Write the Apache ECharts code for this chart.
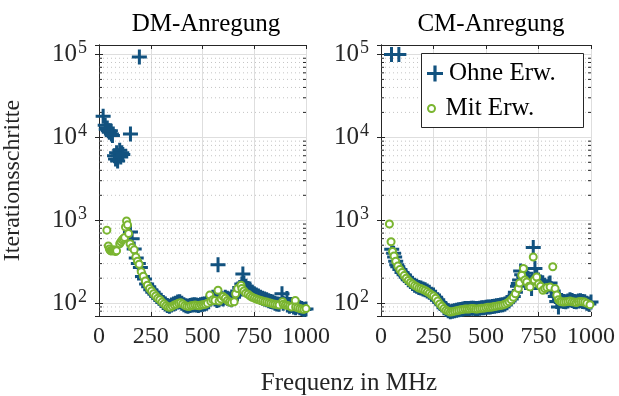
<!DOCTYPE html>
<html lang="de">
  <head>
    <meta charset="UTF-8" />
    <title>Iterationsschritte</title>
    <script src="https://cdn.jsdelivr.net/npm/echarts@6/dist/echarts.min.js"></script>
    <style>
      html, body { margin: 0; padding: 0; background: #fff; }
    </style>
  </head>
  <body>
    <div id="chart" style="width: 619px; height: 396px"></div>
    <script>
      // [Frequenz in MHz, Iterationsschritte]
      const dmOhne = [
        [20, 18000], [30, 14000], [35, 12500], [40, 13000], [45, 12000], [50, 11500], [55, 12000],
        [60, 11000], [65, 10500], [75, 6000], [80, 5500], [85, 6500], [90, 5200], [95, 6000],
        [100, 7000], [105, 5800], [110, 6500], [115, 6200], [152, 11000], [195, 93000],
        [152, 720], [160, 600], [170, 450], [180, 350], [190, 300], [200, 270], [210, 210],
        [220, 195], [230, 170], [240, 158], [250, 145], [260, 135], [270, 128], [280, 120],
        [290, 115], [300, 108], [310, 102], [320, 98], [330, 94], [340, 92], [350, 95], [360, 98],
        [370, 100], [380, 103], [390, 104], [400, 100], [410, 96], [420, 93], [430, 92], [440, 94],
        [450, 95], [460, 96], [470, 95], [480, 94], [490, 96], [500, 97], [510, 98], [520, 100],
        [530, 104], [540, 112], [550, 118], [560, 112], [570, 108], [575, 290], [580, 110],
        [590, 115], [600, 112], [610, 118], [620, 115], [630, 112], [640, 110], [650, 118],
        [660, 125], [670, 140], [680, 155], [690, 170], [695, 225], [700, 175], [710, 160],
        [720, 150], [730, 142], [740, 135], [750, 130], [760, 125], [770, 122], [780, 118],
        [790, 115], [800, 112], [810, 110], [820, 107], [830, 105], [840, 103], [850, 100],
        [860, 98], [870, 97], [884, 130], [890, 100], [908, 114], [910, 95], [920, 92], [930, 94],
        [940, 90], [950, 88], [960, 92], [970, 88], [980, 86], [990, 84], [1000, 85]
      ];
      const dmMit = [
        [38, 760], [45, 490], [50, 450], [55, 430], [60, 425], [65, 430], [70, 440], [75, 430],
        [80, 420], [85, 430], [100, 520], [106, 550], [112, 580], [118, 600], [124, 620],
        [128, 830], [133, 980], [138, 880], [143, 690], [150, 520], [160, 470], [170, 440],
        [178, 360], [186, 320], [194, 295], [204, 240], [214, 211], [224, 185], [234, 165],
        [244, 150], [254, 140], [264, 130], [274, 122], [284, 115], [294, 110], [304, 103],
        [314, 98], [324, 93], [334, 90], [344, 89], [354, 92], [364, 95], [374, 97], [384, 100],
        [394, 101], [404, 98], [414, 94], [424, 92], [434, 91], [444, 93], [454, 94], [464, 95],
        [474, 94], [484, 93], [494, 95], [504, 96], [514, 97], [524, 100], [535, 125], [540, 105],
        [550, 110], [560, 108], [575, 143], [580, 106], [590, 112], [600, 120], [610, 115],
        [620, 108], [630, 104], [640, 102], [653, 104], [660, 130], [670, 150], [686, 165],
        [690, 150], [700, 140], [709, 132], [720, 128], [730, 122], [740, 118], [750, 115],
        [760, 112], [770, 110], [780, 108], [790, 106], [800, 104], [810, 103], [820, 101],
        [830, 100], [840, 98], [850, 97], [860, 96], [870, 95], [887, 104], [890, 97], [900, 95],
        [910, 94], [920, 92], [930, 90], [948, 108], [950, 90], [960, 88], [970, 86], [980, 85],
        [990, 84], [1000, 86]
      ];
      const cmOhne = [
        [50, 100000], [85, 100000], [51, 447], [60, 400], [65, 360], [70, 320], [75, 290],
        [80, 275], [90, 255], [100, 235], [110, 220], [120, 205], [130, 192], [140, 182],
        [150, 173], [160, 165], [170, 160], [180, 155], [190, 152], [200, 148], [210, 145],
        [220, 140], [230, 135], [240, 128], [250, 125], [260, 118], [270, 110], [280, 102],
        [290, 96], [300, 88], [310, 84], [320, 81], [330, 79], [340, 80], [350, 81], [360, 82],
        [370, 83], [380, 84], [390, 85], [400, 86], [410, 86], [420, 86], [430, 87], [440, 87],
        [450, 86], [460, 86], [470, 87], [480, 88], [490, 88], [500, 89], [510, 90], [520, 90],
        [530, 91], [540, 92], [550, 93], [560, 94], [570, 95], [580, 96], [590, 98], [600, 101],
        [610, 106], [620, 112], [630, 120], [640, 135], [650, 160], [654, 173], [660, 190],
        [665, 245], [670, 220], [680, 210], [690, 230], [700, 200], [710, 175], [717, 150],
        [720, 185], [725, 470], [733, 262], [741, 207], [750, 190], [760, 180], [770, 175],
        [780, 165], [790, 158], [800, 170], [805, 175], [810, 150], [820, 140], [830, 120],
        [837, 105], [845, 90], [850, 110], [860, 108], [870, 105], [880, 104], [890, 106],
        [900, 110], [910, 108], [920, 105], [930, 104], [940, 106], [950, 107], [960, 105],
        [970, 104], [980, 100], [990, 98], [1000, 103]
      ];
      const cmMit = [
        [40, 900], [48, 550], [55, 420], [62, 370], [70, 320], [80, 280], [90, 255], [100, 235],
        [110, 215], [120, 200], [130, 188], [140, 178], [150, 170], [160, 163], [170, 158],
        [180, 152], [190, 150], [200, 146], [210, 142], [220, 137], [230, 132], [240, 126],
        [250, 122], [260, 115], [270, 106], [280, 98], [290, 92], [300, 86], [310, 82], [320, 80],
        [330, 78], [340, 79], [350, 80], [360, 81], [370, 82], [380, 83], [390, 84], [400, 85],
        [410, 85], [420, 85], [430, 86], [440, 86], [450, 85], [460, 85], [470, 86], [480, 87],
        [490, 87], [500, 88], [510, 89], [520, 89], [530, 90], [540, 91], [550, 92], [560, 93],
        [570, 94], [580, 95], [590, 97], [600, 100], [610, 104], [620, 110], [630, 118],
        [640, 130], [654, 150], [660, 175], [670, 217], [678, 262], [685, 190], [694, 180],
        [705, 160], [710, 157], [725, 360], [730, 190], [741, 207], [750, 170], [760, 160],
        [771, 143], [780, 150], [790, 155], [805, 157], [818, 275], [829, 150], [837, 125],
        [845, 110], [853, 105], [860, 104], [870, 103], [880, 104], [890, 105], [900, 106],
        [910, 104], [920, 103], [930, 102], [940, 104], [950, 105], [960, 104], [970, 103],
        [980, 100], [995, 96]
      ];

      // axis settings
      const xTicks = [0, 250, 500, 750, 1000];
      const yMin = 70;
      const yMax = 130000;
      const minorVals = [80, 90, 200, 300, 400, 500, 600, 700, 800, 900,
        2000, 3000, 4000, 5000, 6000, 7000, 8000, 9000,
        20000, 30000, 40000, 50000, 60000, 70000, 80000, 90000];

      const blue = '#12527f';
      const green = '#7ab530';
      const font = 'Liberation Serif';
      const plusPath = 'path://M4,0H6V4H10V6H6V10H4V6H0V4H4Z';

      let myCharts = echarts.init(document.getElementById('chart'));

      const grids = [
        { left: 96, top: 45, width: 210, height: 271 },
        { left: 381, top: 45, width: 210, height: 271 }
      ];

      function isPow10(v) {
        let e = Math.round(Math.log10(v));
        return Math.abs(v - Math.pow(10, e)) < v * 1e-6;
      }

      let xAxes = [];
      let yAxes = [];
      for (let i = 0; i < 2; i++) {
        // bottom / top
        for (const pos of ['bottom', 'top']) {
          xAxes.push({
            type: 'value', gridIndex: i, position: pos,
            min: xTicks[0], max: xTicks[xTicks.length - 1], interval: 250,
            axisLine: { show: true, onZero: false, lineStyle: { color: '#262626', width: 1 } },
            axisTick: { show: true, inside: true, length: 4, lineStyle: { color: '#262626' } },
            axisLabel: {
              show: pos === 'bottom', margin: 9, fontFamily: font, fontSize: 24, color: '#262626',
              showMinLabel: true, showMaxLabel: true,
              formatter: (v) => String(v)
            },
            splitLine: { show: pos === 'bottom', lineStyle: { color: '#dedede', width: 1 } }
          });
        }
        for (const pos of ['left', 'right']) {
          yAxes.push({
            type: 'log', gridIndex: i, position: pos, logBase: 10,
            min: yMin, max: yMax,
            name: (i === 0 && pos === 'left') ? 'Iterationsschritte' : '',
            nameLocation: 'middle', nameGap: 74,
            nameTextStyle: { fontFamily: font, fontSize: 24, color: '#262626' },
            axisLine: { show: true, lineStyle: { color: '#262626', width: 1 } },
            axisTick: {
              show: true, inside: true, length: 4, lineStyle: { color: '#262626' },
              interval: (idx, v) => isPow10(v)
            },
            axisLabel: {
              show: pos === 'left', margin: 12, color: '#262626',
              showMinLabel: true, showMaxLabel: true,
              formatter: function (v) {
                if (!isPow10(v)) return '';
                return '{b|10}{s|' + Math.round(Math.log10(v)) + '}';
              },
              rich: {
                b: { fontFamily: font, fontSize: 25, color: '#262626' },
                s: { fontFamily: font, fontSize: 18, color: '#262626', padding: [0, 0, 12, 1] }
              }
            },
            splitLine: { show: pos === 'left', lineStyle: { color: '#dedede', width: 1 } }
          });
        }
      }

      // dotted minor grid and minor ticks at 2..9 x 10^k
      function minorSeries(i) {
        return {
          type: 'custom', xAxisIndex: i * 2, yAxisIndex: i * 2, silent: true, z: 1,
          data: minorVals.map((v) => [0, v]),
          renderItem: function (params, api) {
            let v = api.value(1);
            let p0 = api.coord([xTicks[0], v]);
            let p1 = api.coord([xTicks[xTicks.length - 1], v]);
            return {
              type: 'group',
              children: [
                {
                  type: 'line',
                  shape: { x1: p0[0], y1: p0[1], x2: p1[0], y2: p1[1] },
                  style: { stroke: '#c4c4c4', lineWidth: 1, lineDash: [1, 3] }
                },
                {
                  type: 'line',
                  shape: { x1: p0[0], y1: p0[1], x2: p0[0] + 3, y2: p0[1] },
                  style: { stroke: '#262626', lineWidth: 1 }
                },
                {
                  type: 'line',
                  shape: { x1: p1[0] - 3, y1: p1[1], x2: p1[0], y2: p1[1] },
                  style: { stroke: '#262626', lineWidth: 1 }
                }
              ]
            };
          }
        };
      }

      function ohne(i, data) {
        return {
          name: 'Ohne Erw.', type: 'scatter', xAxisIndex: i * 2, yAxisIndex: i * 2,
          symbol: plusPath, symbolSize: 15, itemStyle: { color: blue, opacity: 1 },
          data: data, z: 2, clip: false
        };
      }
      function mit(i, data) {
        return {
          name: 'Mit Erw.', type: 'scatter', xAxisIndex: i * 2, yAxisIndex: i * 2,
          symbol: 'emptyCircle', symbolSize: 7,
          itemStyle: { color: green, borderColor: green, borderWidth: 2, opacity: 1 },
          data: data, z: 3, clip: false
        };
      }

      const titleStyle = { fontFamily: font, fontSize: 25, fontWeight: 'normal', color: '#000' };

      let option = {
        animation: false,
        grid: grids,
        xAxis: xAxes,
        yAxis: yAxes,
        title: [
          { text: 'DM-Anregung', left: 201, top: 7, textAlign: 'center', textStyle: titleStyle },
          { text: 'CM-Anregung', left: 486, top: 7, textAlign: 'center', textStyle: titleStyle },
          { text: 'Frequenz in MHz', left: 344, top: 366, textAlign: 'center',
            textStyle: { fontFamily: font, fontSize: 25, fontWeight: 'normal', color: '#262626' } }
        ],
        graphic: [
          {
            type: 'rect', left: 421, top: 53, z: 5,
            shape: { width: 162, height: 74 },
            style: { fill: '#fff', stroke: '#262626', lineWidth: 1 }
          }
        ],
        legend: [
          {
            data: ['Ohne Erw.'], left: 427, top: 61, z: 6, padding: 0,
            itemWidth: 16, itemHeight: 16, itemGap: 0,
            textStyle: { fontFamily: font, fontSize: 25, color: '#000', padding: [0, 0, 0, 1] }
          },
          {
            data: ['Mit Erw.'], left: 427, top: 96, z: 6, padding: 0,
            itemWidth: 16, itemHeight: 7, itemGap: 0,
            textStyle: { fontFamily: font, fontSize: 25, color: '#000', padding: [0, 0, 0, 1] }
          }
        ],
        series: [
          minorSeries(0), minorSeries(1),
          ohne(0, dmOhne), mit(0, dmMit),
          ohne(1, cmOhne), mit(1, cmMit)
        ]
      };

      myCharts.setOption(option);
    </script>
  </body>
</html>
